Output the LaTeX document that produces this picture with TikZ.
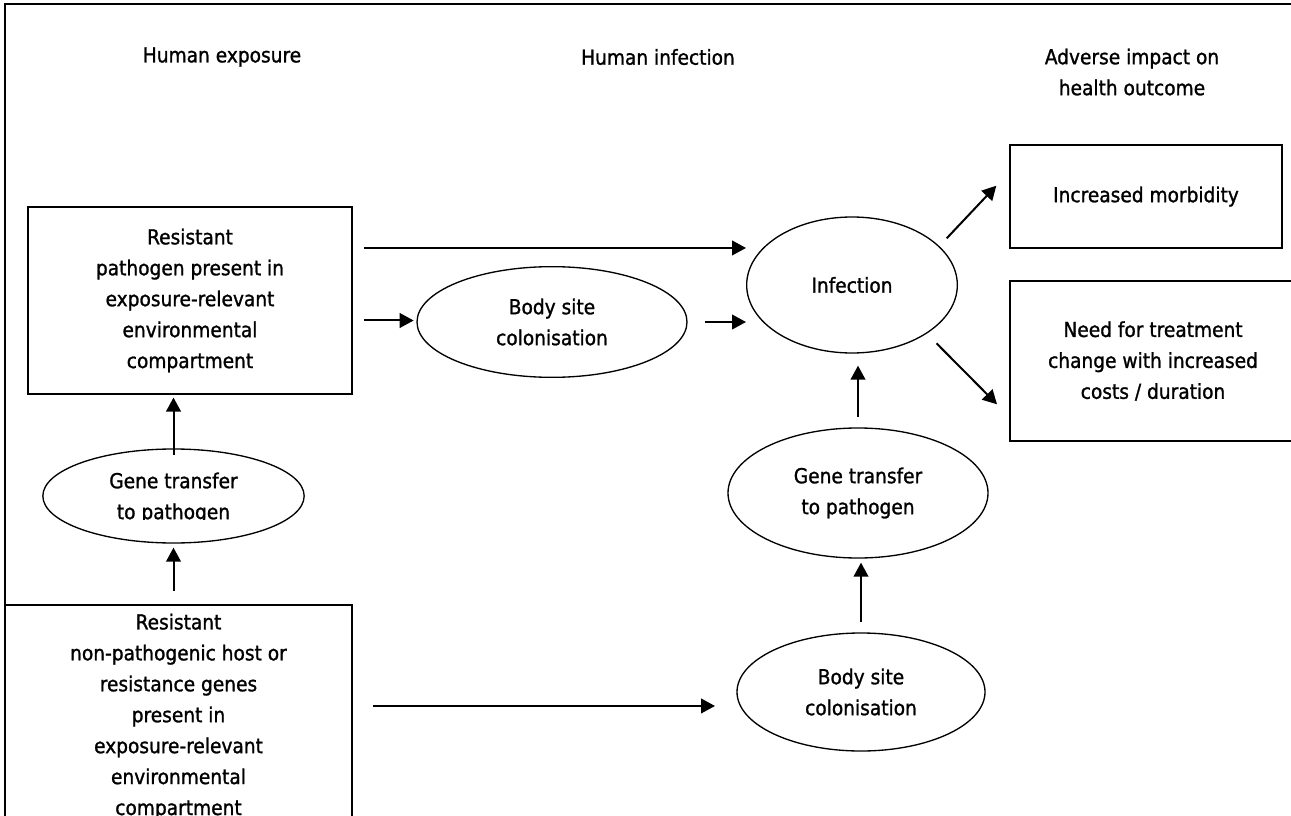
\documentclass[tikz,border=0pt]{standalone}
\usepackage{fontspec}
\setmainfont{DejaVu Sans Condensed}[FakeBold=1.2]
\usepackage{tikz}
\usetikzlibrary{shapes}
\usetikzlibrary{arrows.meta}

\begin{document}
\begin{tikzpicture}[x=0.75pt,y=-0.75pt,
	every node/.style={font=\fontsize{15.5}{23.2}\selectfont,align=center},
	box/.style={rectangle,draw,line width=1.6pt,inner sep=0pt},
	oval/.style={ellipse,draw,line width=1pt,inner sep=0pt},
	link/.style={-{Triangle[length=10.5pt,width=11pt]},line width=1.5pt}]
\useasboundingbox (0,0) rectangle (1291,816);
\clip (0,0) rectangle (1291,816);
\draw [line width=2.2pt] (5,4) rectangle (1300,860);
\node (t1) at (222,57) {Human exposure};
\node (t2) at (658,57) {Human infection};
\node (t3) at (1132,72) {Adverse impact on\\health outcome};
\node [box,minimum width=243pt,minimum height=140pt] (pathbox) at (190,300.5)
	{Resistant\\pathogen present in\\exposure-relevant\\environmental\\compartment};
\node [oval,minimum width=196pt,minimum height=70.5pt] (genel) at (173.5,496) {};
\begin{scope}
\clip (30,440) rectangle (320,519);
\node (genetxt) at (173.5,498) {Gene transfer\\to pathogen};
\end{scope}
\node [box,minimum width=260pt,minimum height=167pt] (host) at (178.5,716.5)
	{Resistant\\non-pathogenic host or\\resistance genes\\present in\\exposure-relevant\\environmental\\compartment};
\node [oval,minimum width=202.5pt,minimum height=83pt] (bodymid) at (552,322) {Body site\\colonisation};
\node [oval,minimum width=158pt,minimum height=102pt] (infect) at (852,285) {Infection};
\node [oval,minimum width=195pt,minimum height=97.5pt] (gener) at (858,493) {Gene transfer\\to pathogen};
\node [oval,minimum width=186pt,minimum height=88.5pt] (bodyb) at (861,692) {Body site\\colonisation};
\node [box,minimum width=204pt,minimum height=77pt] (morb) at (1146,196.5) {Increased morbidity};
\node [box,minimum width=214.5pt,minimum height=120pt] (need) at (1153,361)
	{Need for treatment\\change with increased\\costs / duration};
\draw [link,shorten <=8pt] ([yshift=39.4pt]pathbox.east) -- ([yshift=39.4pt]pathbox.east -| infect.west);
\draw [link,shorten <=8pt,shorten >=2pt] ([yshift=-15pt]pathbox.east) -- ([yshift=-15pt]pathbox.east -| bodymid.west);
\draw [link,shorten <=12.75pt] (bodymid.east) -- (bodymid.east -| infect.west);
\draw [link,shorten <=8pt,shorten >=13.8pt] (infect.24) -- (morb.170.6);
\draw [link,shorten <=10.3pt,shorten >=12.7pt] (infect.-33) -- (need.201.4);
\draw [link,shorten <=9.75pt,shorten >=3pt] (genel.south |- host.north) -- (genel.south);
\draw [link,shorten <=-5pt,shorten >=2pt] (genel.north) -- (genel.north |- pathbox.south);
\draw [link,shorten <=7.5pt,shorten >=3pt] (bodyb.north) -- (bodyb.north |- gener.south);
\draw [link,shorten <=8pt,shorten >=9pt] (gener.north) -- (gener.north |- infect.south);
\draw [link,shorten <=15pt,shorten >=16pt] ([yshift=7.9pt]host.east) -- ([yshift=7.9pt]host.east -| bodyb.west);
\end{tikzpicture}
\end{document}
